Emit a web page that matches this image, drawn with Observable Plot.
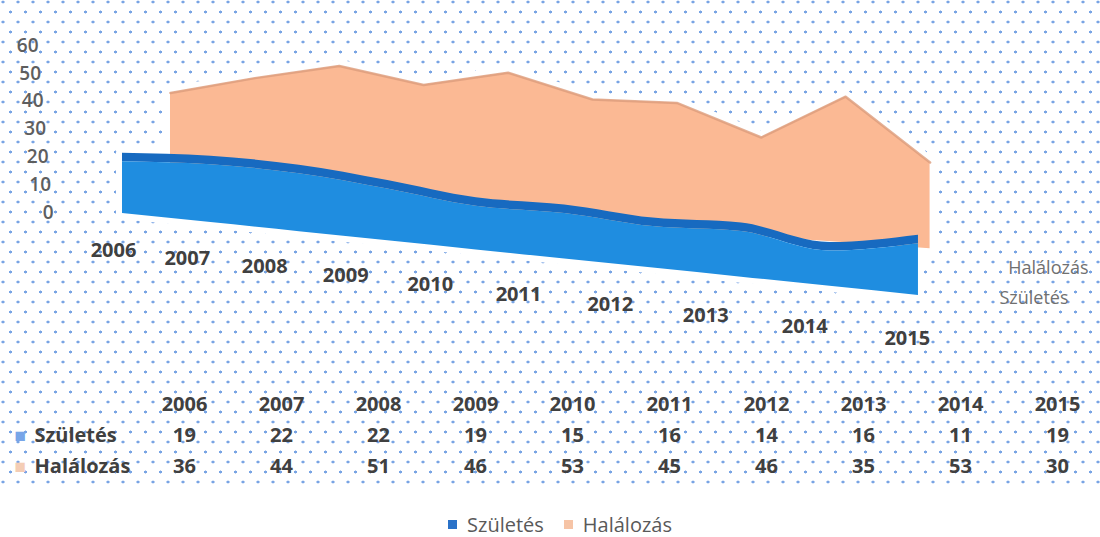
<!DOCTYPE html>
<html>
<head>
<meta charset="utf-8">
<script src="https://cdn.jsdelivr.net/npm/d3@7"></script>
<script src="https://cdn.jsdelivr.net/npm/@observablehq/plot@0.6"></script>
<style>
  body { margin: 0; background: #fff; }
  #wrap { position: relative; width: 1100px; height: 537px; font-family: "Open Sans", sans-serif; overflow: hidden; }
  #dots { position: absolute; left: 0; top: 0; width: 1100px; height: 486px;
    background-image: radial-gradient(circle, #78a4e4 1.2px, rgba(255,255,255,0) 1.8px),
                      radial-gradient(circle, #78a4e4 1.2px, rgba(255,255,255,0) 1.8px);
    background-size: 15px 20px; background-position: 3px 2px, 10.5px 12px; }
  #chart { position: absolute; left: 0; top: 0; }
  #table { position: absolute; left: 0; top: 375px; }
  #legend { position: absolute; left: 20px; top: 508px; width: 1100px; display: flex; justify-content: center; }
</style>
</head>
<body>
<div id="wrap">
  <div id="dots"></div>
  <div id="chart"></div>
  <div id="table"></div>
  <div id="legend"></div>
</div>
<script>
// ---- data ----
const years = [2006, 2007, 2008, 2009, 2010, 2011, 2012, 2013, 2014, 2015];
const szuletes = [19, 22, 22, 19, 15, 16, 14, 16, 11, 19];
const halalozas = [36, 44, 51, 46, 53, 45, 46, 35, 53, 30];
const yTicks = [0, 10, 20, 30, 40, 50, 60];
const seriesNames = ["Születés", "Halálozás"];

// ---- colours ----
const C = {
  front: "#1f8de0", rim: "#176ac0", back: "#fbb994", backEdge: "#dc9c7c",
  text: "#404040", axis: "#5e5e5e", series: "#707070",
  keyBlue: "#78a5e8", keyOrange: "#f4cdb5", legBlue: "#2a72c8", legOrange: "#f6c4a6"
};

// ---- 3-D view projected onto the plane (scale units) ----
const W = 1100, H = 375;
const pxPerX = 88.44, x0px = 122, pxPerY = 2.78, y0px = 212;
const xDomain = [-x0px / pxPerX, (W - x0px) / pxPerX];
const yDomain = [(y0px - H) / pxPerY, y0px / pxPerY];

const front = years.map((yr, i) => {
  const base = -0.36 - 3.273 * i;
  const top = base + 0.7374 * szuletes[i] + 4.6;
  return {year: yr, x: i, base, top, rim: top + 3.06};
});
const back = years.map((yr, i) => {
  const ref = 9.35 - 2.158 * i;
  return {year: yr, x: 0.5427 + 0.9543 * i, y1: ref - 3, y2: ref + 0.935 * halalozas[i]};
});
const yearLabels = years.map((yr, i) => ({
  text: String(yr),
  x: (113 + 72 * i + 1.8 * i * i - x0px) / pxPerX,
  y: (y0px - (250 + 7.5 * i + 0.25 * i * i)) / pxPerY
}));
const tickLabels = yTicks.map(t => ({text: String(t), x: (53 - 0.25 * t - x0px) / pxPerX, y: t}));
const seriesLabels = [
  {text: seriesNames[1], x: (1088 - x0px) / pxPerX, y: (y0px - 268) / pxPerY},
  {text: seriesNames[0], x: (1068 - x0px) / pxPerX, y: (y0px - 298) / pxPerY}
];

const chart = Plot.plot({
  width: W, height: H,
  marginTop: 0, marginRight: 0, marginBottom: 0, marginLeft: 0,
  style: {background: "transparent", fontFamily: "Open Sans"},
  x: {type: "linear", domain: xDomain, range: [0, W], axis: null},
  y: {type: "linear", domain: yDomain, range: [H, 0], axis: null},
  marks: [
    // white halos (dot-free margin around the shapes)
    Plot.areaY(back, {x: "x", y1: "y1", y2: "y2", fill: "white", stroke: "white", strokeWidth: 12, strokeLinejoin: "round"}),
    Plot.areaY(front, {x: "x", y1: "base", y2: "rim", curve: "monotone-x", fill: "white", stroke: "white", strokeWidth: 12, strokeLinejoin: "round"}),
    // back series (Halálozás)
    Plot.areaY(back, {x: "x", y1: "y1", y2: "y2", fill: C.back}),
    Plot.line(back, {x: "x", y: "y2", stroke: C.backEdge, strokeWidth: 2.5, strokeOpacity: 0.8}),
    // front series (Születés)
    Plot.areaY(front, {x: "x", y1: "top", y2: "rim", curve: "monotone-x", fill: C.rim}),
    Plot.areaY(front, {x: "x", y1: "base", y2: "top", curve: "monotone-x", fill: C.front}),
    // value axis labels
    Plot.text(tickLabels, {x: "x", y: "y", text: "text", textAnchor: "end", fontSize: 19, fontWeight: 600, fill: C.axis}),
    // category labels
    Plot.text(yearLabels, {x: "x", y: "y", text: "text", fontSize: 20, fontWeight: "bold", fill: C.text}),
    // series (depth) labels
    Plot.text(seriesLabels, {x: "x", y: "y", text: "text", textAnchor: "end", fontSize: 18, fill: C.series})
  ]
});
document.getElementById("chart").append(chart);

// ---- data table ----
const rowKeys = ["header", ...seriesNames];
const cells = [];
years.forEach((yr, i) => {
  cells.push({year: yr, row: "header", text: String(yr)});
  cells.push({year: yr, row: seriesNames[0], text: String(szuletes[i])});
  cells.push({year: yr, row: seriesNames[1], text: String(halalozas[i])});
});
const table = Plot.plot({
  width: W, height: 110,
  marginTop: 0, marginRight: 0, marginBottom: 0, marginLeft: 0,
  style: {background: "transparent", fontFamily: "Open Sans"},
  x: {type: "point", domain: years, range: [183, 1057], padding: 0, axis: null},
  y: {type: "point", domain: rowKeys, range: [29, 91], padding: 0, axis: null},
  marks: [
    Plot.text(cells, {x: "year", y: "row", text: "text", fontSize: 20, fontWeight: "bold", fill: C.text}),
    Plot.text(seriesNames, {y: d => d, text: () => "■", frameAnchor: "left", dx: 14, textAnchor: "start", fontSize: 19,
      fill: d => d === seriesNames[0] ? C.keyBlue : C.keyOrange}),
    Plot.text(seriesNames, {y: d => d, text: d => d, frameAnchor: "left", dx: 34, textAnchor: "start", fontSize: 20, fontWeight: "bold", fill: C.text})
  ]
});
document.getElementById("table").append(table);

// ---- legend ----
const legend = Plot.legend({
  color: {type: "categorical", domain: seriesNames, range: [C.legBlue, C.legOrange]},
  swatchSize: 9,
  style: {fontSize: "20px", fontFamily: "Open Sans", color: "#595959", background: "transparent"}
});
document.getElementById("legend").append(legend);
</script>
</body>
</html>
